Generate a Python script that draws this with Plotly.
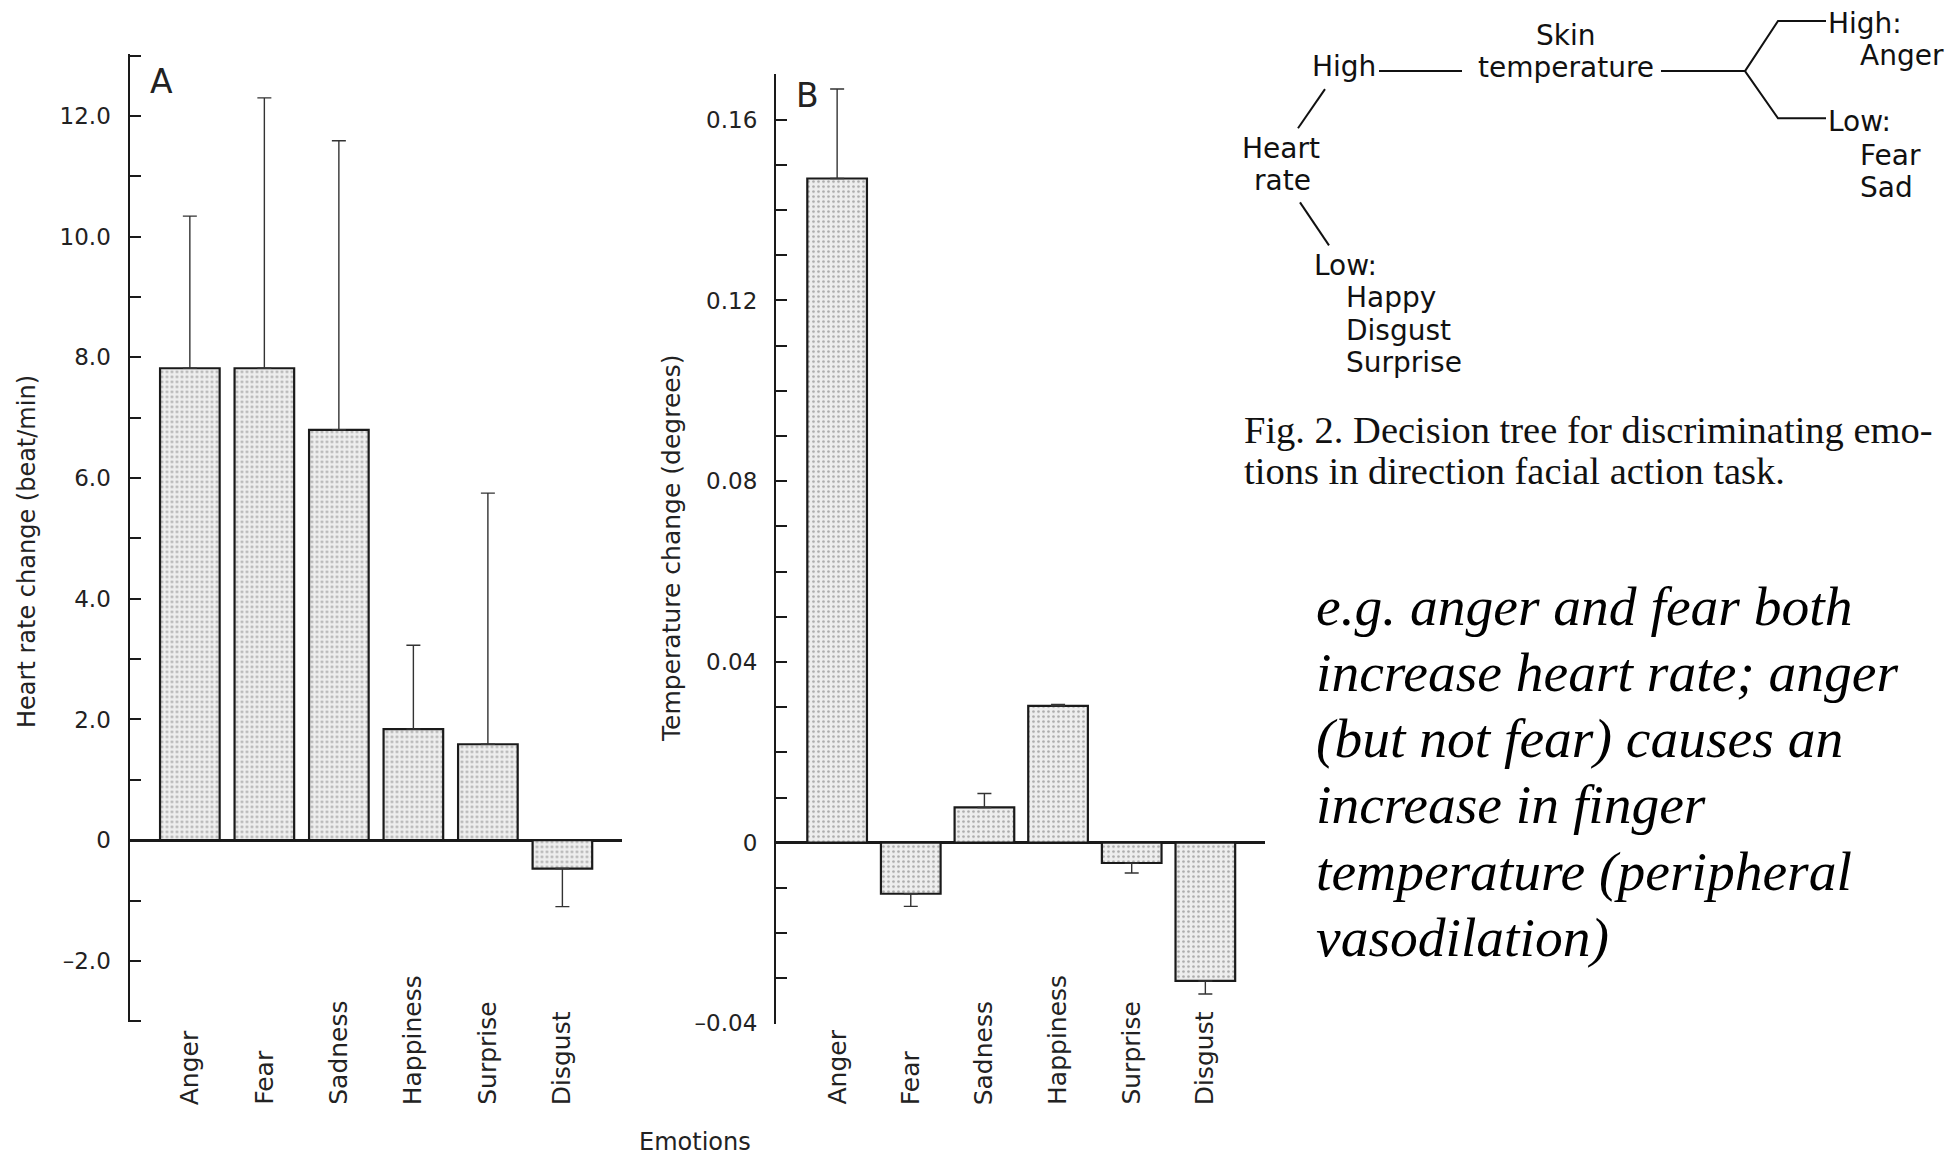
import plotly.graph_objects as go

# ---------------- data ----------------
emotions = ["Anger", "Fear", "Sadness", "Happiness", "Surprise", "Disgust"]
hr_change = [7.82, 7.82, 6.80, 1.84, 1.59, -0.47]          # beat/min
hr_err = [2.52, 4.48, 4.79, 1.39, 4.16, 0.63]
temp_change = [0.147, -0.0113, 0.0078, 0.0303, -0.0045, -0.0306]  # degrees
temp_err = [0.0198, 0.0028, 0.0031, 0.0003, 0.0022, 0.0029]

hr_tickvals = list(range(-3, 14))
hr_ticktext = {12: "12.0", 10: "10.0", 8: "8.0", 6: "6.0", 4: "4.0", 2: "2.0", 0: "0", -2: "–2.0"}
temp_tickvals = [round(-0.04 + 0.01 * i, 2) for i in range(22)]
temp_ticktext = {0.16: "0.16", 0.12: "0.12", 0.08: "0.08", 0.04: "0.04", 0.0: "0", -0.04: "–0.04"}

# target picture is 1959x1153; the page is photographed a little taller and scaled back,
# so the figure is made that much taller while positions are given in picture pixels
W, H = 1959, 1153
FIG_H = 1168
SANS = "DejaVu Sans"
SERIF = "Liberation Serif"


def px(x):
    return x / W


def py(y):
    return 1 - y / H


def err_parts(means, errs):
    up = [e if m >= 0 else 0 for m, e in zip(means, errs)]
    down = [e if m < 0 else 0 for m, e in zip(means, errs)]
    return up, down


bar_marker = dict(
    color="#eeeeee",
    line=dict(color="#1a1a1a", width=2.2),
    pattern=dict(shape=".", fgcolor="#666666", bgcolor="#eeeeee", size=5, solidity=0.22),
)

fig = go.Figure()
up, down = err_parts(hr_change, hr_err)
fig.add_trace(go.Bar(
    x=emotions, y=hr_change, width=0.8, marker=bar_marker, xaxis="x", yaxis="y",
    error_y=dict(type="data", array=up, arrayminus=down, symmetric=False,
                 color="#333333", thickness=1.4, width=7),
    showlegend=False,
))
up2, down2 = err_parts(temp_change, temp_err)
fig.add_trace(go.Bar(
    x=emotions, y=temp_change, width=0.81, marker=bar_marker, xaxis="x2", yaxis="y2",
    error_y=dict(type="data", array=up2, arrayminus=down2, symmetric=False,
                 color="#333333", thickness=1.4, width=7),
    showlegend=False,
))

yax_common = dict(
    showline=True, linecolor="#1a1a1a", linewidth=2.2,
    ticks="inside", ticklen=11, tickwidth=1.6, tickcolor="#1a1a1a",
    showgrid=False, zeroline=True, zerolinecolor="#1a1a1a", zerolinewidth=2.6,
    tickfont=dict(family=SANS, size=23, color="#222222"),
    ticklabelstandoff=12,
)
xax_common = dict(showline=False, showticklabels=False, ticks="", showgrid=False,
                  zeroline=False, type="category")

fig.update_layout(
    width=W, height=FIG_H,
    margin=dict(l=0, r=0, t=0, b=0),
    paper_bgcolor="white", plot_bgcolor="rgba(0,0,0,0)",
    bargap=0.2,
    xaxis=dict(domain=[px(129.5), px(622)], range=[-0.81, 5.80], anchor="y", **xax_common),
    yaxis=dict(domain=[py(1020.7), py(54.3)], range=[-3.02, 13.02], anchor="x",
               tickvals=hr_tickvals, ticktext=[hr_ticktext.get(v, "") for v in hr_tickvals],
               **yax_common),
    xaxis2=dict(domain=[px(776), px(1265)], range=[-0.83, 5.81], anchor="y2", **xax_common),
    yaxis2=dict(domain=[py(1022.1), py(74)], range=[-0.0401, 0.1701], anchor="x2",
                tickvals=temp_tickvals,
                ticktext=[temp_ticktext.get(v, "") for v in temp_tickvals],
                **yax_common),
)

ann = []
# category labels (rotated, bottom-aligned)
for xa in ("x", "x2"):
    for e in emotions:
        ann.append(dict(x=e, xref=xa, y=py(1105), yref="paper", text=e, textangle=-90,
                        showarrow=False, xanchor="center", yanchor="bottom",
                        font=dict(family=SANS, size=25, color="#222222")))


def label(text, x, y, size, family=SANS, xanchor="center", angle=0, color="#222222"):
    ann.append(dict(x=px(x), y=py(y), xref="paper", yref="paper", text=text,
                    textangle=angle, showarrow=False, xanchor=xanchor, yanchor="middle",
                    font=dict(family=family, size=size, color=color)))


# axis titles and panel letters
label("Heart rate change (beat/min)", 27, 551, 24, angle=-90)
label("Temperature change (degrees)", 672, 548, 25, angle=-90)
label("Emotions", 695, 1140, 24)
label("A", 161, 81, 33)
label("B", 807, 95, 33)

# decision tree
tree_texts = [
    ("Skin", 1566, 35, "center"),
    ("temperature", 1566, 67, "center"),
    ("High", 1344, 66, "center"),
    ("High:", 1826, 23, "left"),
    ("Anger", 1858, 55, "left"),
    ("Low:", 1826, 121, "left"),
    ("Fear", 1858, 155, "left"),
    ("Sad", 1858, 187, "left"),
    ("Heart", 1281, 148, "center"),
    ("rate", 1282, 180, "center"),
    ("Low:", 1312, 265, "left"),
    ("Happy", 1344, 297, "left"),
    ("Disgust", 1344, 330, "left"),
    ("Surprise", 1344, 362, "left"),
]
for t, x, y, anc in tree_texts:
    label(t, x, y, 28, xanchor=anc, color="#111111")

caption = ["Fig. 2. Decision tree for discriminating emo-",
           "tions in direction facial action task."]
for i, line in enumerate(caption):
    label(line, 1242, 429 + 41 * i, 38.5, family=SERIF, xanchor="left", color="#111111")

note = ["e.g. anger and fear both",
        "increase heart rate; anger",
        "(but not fear) causes an",
        "increase in finger",
        "temperature (peripheral",
        "vasodilation)"]
for i, line in enumerate(note):
    label("<i>" + line + "</i>", 1314, 605 + 66.2 * i, 55.5, family=SERIF,
          xanchor="left", color="#000000")

fig.update_layout(annotations=ann)

# tree connector lines
segments = [
    [(1379, 71), (1462, 71)],
    [(1661, 71), (1745, 71)],
    [(1745, 71), (1778, 21), (1826, 21)],
    [(1745, 71), (1778, 118), (1826, 118)],
    [(1325, 89), (1298, 128)],
    [(1300, 202), (1329, 245)],
]
shapes = []
for seg in segments:
    path = "M " + " L ".join(f"{px(x):.5f},{py(y):.5f}" for x, y in seg)
    shapes.append(dict(type="path", path=path, xref="paper", yref="paper",
                       line=dict(color="#111111", width=2)))
fig.update_layout(shapes=shapes)

# the figure fills the page: drop the default body margin, scrollbars and mode bar
fig.write_html("out.html", config={"displayModeBar": False},
               post_script="document.body.style.margin='0px';document.body.style.overflow='hidden';")
